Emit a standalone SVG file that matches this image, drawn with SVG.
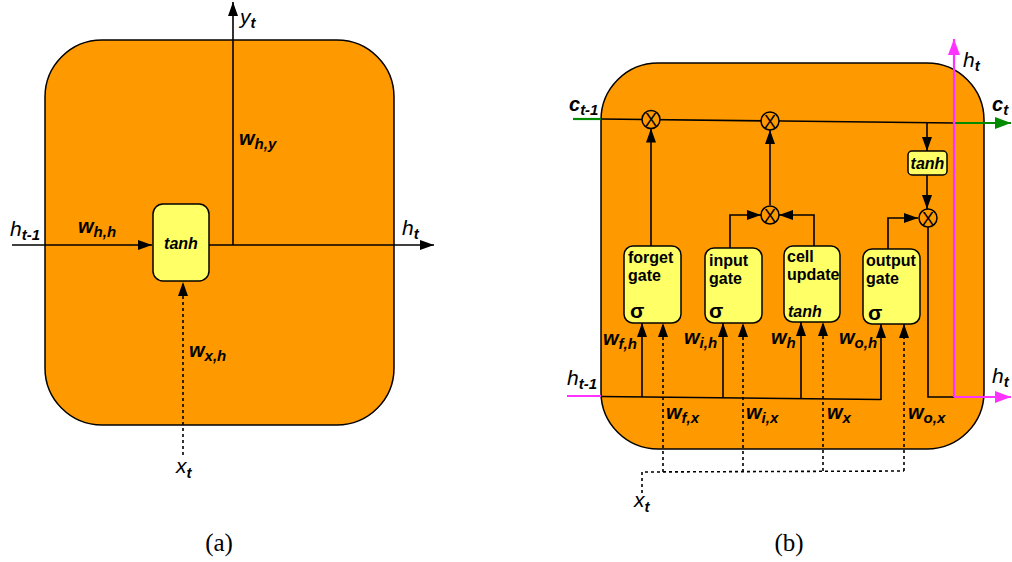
<svg xmlns="http://www.w3.org/2000/svg" width="1012" height="562" viewBox="0 0 1012 562">
<style>
.cell{fill:#ff9900;stroke:#000;stroke-width:1.5}
.box{fill:#ffff66;stroke:#000;stroke-width:1.5}
.ln{fill:none;stroke:#000;stroke-width:1.6}
.dot{fill:none;stroke:#000;stroke-width:1.6;stroke-dasharray:3,3}
.pk{fill:none;stroke:#ff33ff;stroke-width:2.2}
.gr{fill:none;stroke:#008a00;stroke-width:2.2}
.mul{fill:#ff9900;stroke:#000;stroke-width:1.5}
text{font-family:"Liberation Sans",Arial,sans-serif;fill:#000}
.v{font-style:italic;font-size:21px}
.vb{font-style:italic;font-weight:bold;font-size:20px}
.w{font-style:italic;font-weight:bold;font-size:20px}
.s{font-style:italic;font-weight:bold;font-size:15px}
.g{font-weight:bold;font-size:16px}
.t{font-style:italic;font-weight:bold;font-size:16px}
.sig{font-weight:bold;font-size:21px}
.x{font-size:18px;text-anchor:middle}
.cap{font-family:"Liberation Serif","Times New Roman",serif;font-size:25px;text-anchor:middle}
</style>
<defs>
<marker id="ah" markerUnits="userSpaceOnUse" markerWidth="14" markerHeight="10" refX="14" refY="5" orient="auto"><path d="M0,0 L14,5 L0,10 z" fill="#000"/></marker>
<marker id="ap" markerUnits="userSpaceOnUse" markerWidth="16" markerHeight="12" refX="16" refY="6" orient="auto"><path d="M0,0 L16,6 L0,12 z" fill="#ff33ff"/></marker>
<marker id="ag" markerUnits="userSpaceOnUse" markerWidth="16" markerHeight="12" refX="16" refY="6" orient="auto"><path d="M0,0 L16,6 L0,12 z" fill="#008a00"/></marker>
</defs>

<!-- Panel (a) -->
<g id="rnn-cell"><rect class="cell" x="45" y="40" width="349" height="385" rx="57"/></g>
<g id="a-connectors">
<line class="ln" x1="12" y1="245" x2="152" y2="245" marker-end="url(#ah)"/>
<line class="ln" x1="209" y1="245" x2="434" y2="245" marker-end="url(#ah)"/>
<line class="ln" x1="233" y1="245" x2="233" y2="2" marker-end="url(#ah)"/>
<line class="dot" x1="183" y1="455" x2="183" y2="282" marker-end="url(#ah)"/>
</g>
<g id="a-tanh"><rect class="box" x="153" y="204" width="56" height="77" rx="10"/><text class="t" x="181" y="249" text-anchor="middle">tanh</text></g>
<g id="a-labels">
<text x="10" y="236"><tspan class="v">h</tspan><tspan class="s" dy="4">t-1</tspan></text>
<text x="78" y="233"><tspan class="w">w</tspan><tspan class="s" dy="4">h,h</tspan></text>
<text x="402" y="235"><tspan class="v">h</tspan><tspan class="s" dy="4">t</tspan></text>
<text x="240" y="24"><tspan class="v">y</tspan><tspan class="s" dy="4">t</tspan></text>
<text x="239" y="145"><tspan class="w">w</tspan><tspan class="s" dy="4">h,y</tspan></text>
<text x="189" y="357"><tspan class="w">w</tspan><tspan class="s" dy="4">x,h</tspan></text>
<text x="176" y="473"><tspan class="v">x</tspan><tspan class="s" dy="5">t</tspan></text>
<text class="cap" x="219" y="551">(a)</text>
</g>

<!-- Panel (b) -->
<g id="lstm-cell"><rect class="cell" x="601" y="63" width="383" height="386" rx="57"/></g>
<g id="b-connectors">
<line class="gr" x1="573" y1="119" x2="601" y2="119"/>
<line class="ln" x1="601" y1="119" x2="954" y2="123"/>
<line class="gr" x1="954" y1="123" x2="1011" y2="123" marker-end="url(#ag)"/>
<line class="ln" x1="927" y1="122.7" x2="927" y2="151" marker-end="url(#ah)"/>
<line class="ln" x1="927" y1="175" x2="927" y2="209" marker-end="url(#ah)"/>
<line class="ln" x1="651" y1="246" x2="651" y2="128.5" marker-end="url(#ah)"/>
<polyline class="ln" points="730,248 730,215 761,215" marker-end="url(#ah)"/>
<polyline class="ln" points="814,246 814,215 779,215" marker-end="url(#ah)"/>
<line class="ln" x1="770" y1="205" x2="770" y2="130" marker-end="url(#ah)"/>
<polyline class="ln" points="888,249 888,218 918,218" marker-end="url(#ah)"/>
<polyline class="ln" points="928,227 928,397 954,397"/>
<line class="pk" x1="567" y1="396" x2="601" y2="396"/>
<line class="ln" x1="601" y1="396.5" x2="881" y2="399.5"/>
<line class="ln" x1="642" y1="397" x2="642" y2="323" marker-end="url(#ah)"/>
<line class="ln" x1="723" y1="398" x2="723" y2="323" marker-end="url(#ah)"/>
<line class="ln" x1="801" y1="399" x2="801" y2="322" marker-end="url(#ah)"/>
<line class="ln" x1="881" y1="400" x2="881" y2="324" marker-end="url(#ah)"/>
<line class="dot" x1="663" y1="472" x2="663" y2="323" marker-end="url(#ah)"/>
<line class="dot" x1="743" y1="472" x2="743" y2="323" marker-end="url(#ah)"/>
<line class="dot" x1="823" y1="471" x2="823" y2="322" marker-end="url(#ah)"/>
<line class="dot" x1="904" y1="471" x2="904" y2="324" marker-end="url(#ah)"/>
<polyline class="dot" points="642,493 642,472 904,471"/>
<line class="pk" x1="954" y1="397" x2="954" y2="39" marker-end="url(#ap)"/>
<line class="pk" x1="954" y1="397" x2="1011" y2="397" marker-end="url(#ap)"/>
</g>
<g id="mul-forget"><circle class="mul" cx="651" cy="119.5" r="9"/><text class="x" x="651" y="126">X</text></g>
<g id="mul-input"><circle class="mul" cx="770" cy="121" r="9"/><text class="x" x="770" y="127.5">X</text></g>
<g id="mul-gate"><circle class="mul" cx="770" cy="215" r="9"/><text class="x" x="770" y="221.5">X</text></g>
<g id="mul-output"><circle class="mul" cx="928" cy="218" r="9"/><text class="x" x="928" y="224.5">X</text></g>
<g id="tanh-out"><rect class="box" x="908" y="151" width="39" height="24" rx="4"/><text class="t" x="927.5" y="168.5" text-anchor="middle">tanh</text></g>
<g id="forget-gate"><rect class="box" x="624" y="246" width="57" height="77" rx="9"/><text class="g" x="628" y="263">forget</text><text class="g" x="628" y="281">gate</text><text class="sig" x="630" y="318">σ</text></g>
<g id="input-gate"><rect class="box" x="705" y="248" width="57" height="75" rx="9"/><text class="g" x="709" y="266">input</text><text class="g" x="709" y="284">gate</text><text class="sig" x="709" y="318">σ</text></g>
<g id="cell-update"><rect class="box" x="784" y="246" width="56" height="76" rx="9"/><text class="g" x="787" y="262">cell</text><text class="g" x="787" y="280">update</text><text class="t" x="788" y="317">tanh</text></g>
<g id="output-gate"><rect class="box" x="863" y="249" width="57" height="75" rx="9"/><text class="g" x="866" y="266">output</text><text class="g" x="866" y="284">gate</text><text class="sig" x="868" y="320">σ</text></g>
<g id="b-labels">
<text x="569" y="111"><tspan class="vb">c</tspan><tspan class="s" dy="4">t-1</tspan></text>
<text x="992" y="111"><tspan class="vb">c</tspan><tspan class="s" dy="4">t</tspan></text>
<text x="963" y="67"><tspan class="v">h</tspan><tspan class="s" dy="4">t</tspan></text>
<text x="567" y="385"><tspan class="v">h</tspan><tspan class="s" dy="4">t-1</tspan></text>
<text x="992" y="383"><tspan class="v">h</tspan><tspan class="s" dy="4">t</tspan></text>
<text x="634" y="507"><tspan class="v">x</tspan><tspan class="s" dy="5">t</tspan></text>
<text x="603" y="345"><tspan class="w">w</tspan><tspan class="s" dy="4">f,h</tspan></text>
<text x="684" y="344"><tspan class="w">w</tspan><tspan class="s" dy="4">i,h</tspan></text>
<text x="771" y="344"><tspan class="w">w</tspan><tspan class="s" dy="4">h</tspan></text>
<text x="839" y="344"><tspan class="w">w</tspan><tspan class="s" dy="4">o,h</tspan></text>
<text x="666" y="419"><tspan class="w">w</tspan><tspan class="s" dy="4">f,x</tspan></text>
<text x="746" y="419"><tspan class="w">w</tspan><tspan class="s" dy="4">i,x</tspan></text>
<text x="827" y="419"><tspan class="w">w</tspan><tspan class="s" dy="4">x</tspan></text>
<text x="908" y="419"><tspan class="w">w</tspan><tspan class="s" dy="4">o,x</tspan></text>
<text class="cap" x="789" y="551">(b)</text>
</g>
</svg>
